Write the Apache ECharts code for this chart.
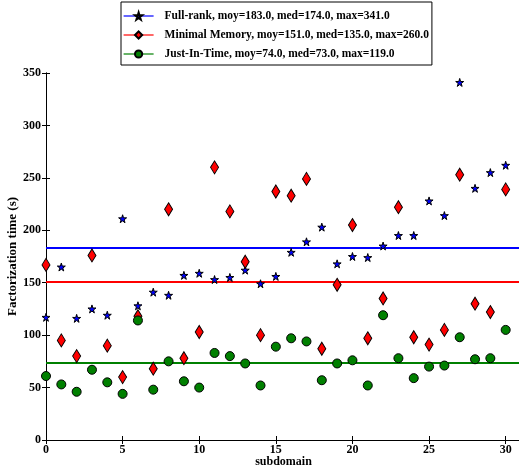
<!DOCTYPE html>
<html>
<head>
<meta charset="utf-8">
<script src="https://cdn.jsdelivr.net/npm/echarts@6/dist/echarts.min.js"></script>
<style>
html,body{margin:0;padding:0;background:#fff;}
#chart{width:519px;height:472px;}
</style>
</head>
<body>
<div id="chart"></div>
<script>
// ---- data ----
const subdomains = [0,1,2,3,4,5,6,7,8,9,10,11,12,13,14,15,16,17,18,19,20,21,22,23,24,25,26,27,28,29,30];
const fullRank = [117,165,116,125,119,211,128,141,138,157,159,153,155,162,149,156,179,189,203,168,175,174,185,195,195,228,214,341,240,255,262];
const minimalMemory = [167,95,80,176,90,60,118,68,220,78,103,260,218,170,100,237,233,249,87,148,205,97,135,222,98,91,105,253,130,122,239];
const justInTime = [61,53,46,67,55,44,114,48,75,56,50,83,80,73,52,89,97,94,57,73,76,52,119,78,59,70,71,98,77,78,105];
const seriesNames = [
  'Full-rank, moy=183.0, med=174.0, max=341.0',
  'Minimal Memory, moy=151.0, med=135.0, max=260.0',
  'Just-In-Time, moy=74.0, med=73.0, max=119.0'
];
const means = [183, 151, 74];
const xTicks = [0, 5, 10, 15, 20, 25, 30];
const yTicks = [0, 50, 100, 150, 200, 250, 300, 350];

const FONT = 'Liberation Serif';
const starPath = 'path://M50,0 L61,35 L98,35 L68,57 L79,91 L50,70 L21,91 L32,57 L2,35 L39,35 Z';
const colors = ['#0000ff', '#ff0000', '#008000'];
const symbols = [starPath, 'diamond', 'circle'];
const sizes = [8, [8, 13], 9];
const values = [fullRank, minimalMemory, justInTime];

const chart = echarts.init(document.getElementById('chart'), null, {renderer: 'canvas'});

const pointSeries = values.map((vals, k) => ({
  name: seriesNames[k],
  type: 'line',
  data: subdomains.map((x, i) => [x, vals[i]]),
  symbol: symbols[k],
  symbolSize: sizes[k],
  showSymbol: true,
  showAllSymbol: true,
  lineStyle: {width: 0, opacity: 0},
  itemStyle: {color: colors[k], borderColor: '#000', borderWidth: 1},
  emphasis: {disabled: true},
  z: 5,
  animation: false
}));

const meanSeries = means.map((m, k) => ({
  type: 'line',
  data: [],
  silent: true,
  z: 2,
  markLine: {
    silent: true,
    symbol: 'none',
    label: {show: false},
    lineStyle: {color: colors[k], width: 1.8, type: 'solid'},
    data: [{yAxis: m}],
    animation: false
  }
}));

const axisCommon = {
  type: 'value',
  axisLine: {show: true, lineStyle: {color: '#000', width: 1}},
  splitLine: {show: false},
  axisTick: {show: true, inside: true, length: 4, lineStyle: {color: '#000'}}
};

const labelStyle = {fontFamily: FONT, fontWeight: 'bold', fontSize: 12, color: '#000'};

const option = {
  animation: false,
  backgroundColor: '#fff',
  grid: {left: 46, top: 73, width: 475, height: 367, containLabel: false, outerBoundsMode: 'none'},
  legend: {
    orient: 'vertical',
    left: 121,
    top: 2,
    padding: [8, 3, 5, 2],
    itemWidth: 30,
    itemHeight: 9,
    itemGap: 7,
    borderColor: '#000',
    borderWidth: 1,
    borderRadius: 0,
    textStyle: {fontFamily: FONT, fontWeight: 'bold', fontSize: 11.5, color: '#000', padding: [0, 0, 0, 6]},
    data: seriesNames.map((n, k) => ({
      name: n,
      lineStyle: {color: colors[k], width: 1.2, opacity: 1}
    }))
  },
  xAxis: [
    Object.assign({}, axisCommon, {
      min: 0, max: 31, interval: 5,
      position: 'bottom',
      name: 'subdomain',
      nameLocation: 'middle',
      nameGap: 16,
      nameMoveOverlap: false,
      nameTextStyle: labelStyle,
      axisLabel: Object.assign({}, labelStyle, {margin: 4, showMaxLabel: false,
        formatter: v => (xTicks.indexOf(v) >= 0 ? String(v) : '')})
    }),
    Object.assign({}, axisCommon, {
      min: 0, max: 31, interval: 5,
      position: 'top',
      axisLabel: {show: false}
    })
  ],
  yAxis: [
    Object.assign({}, axisCommon, {
      min: 0, max: 350, interval: 50,
      position: 'left',
      name: 'Factorization time (s)',
      nameLocation: 'middle',
      nameGap: 27,
      nameMoveOverlap: false,
      nameRotate: 90,
      nameTextStyle: Object.assign({}, labelStyle, {fontSize: 13}),
      axisLabel: Object.assign({}, labelStyle, {margin: 5,
        formatter: v => (yTicks.indexOf(v) >= 0 ? String(v) : '')})
    }),
    Object.assign({}, axisCommon, {
      min: 0, max: 350, interval: 50,
      position: 'right',
      axisLabel: {show: false}
    })
  ],
  series: meanSeries.concat(pointSeries)
};

chart.setOption(option);
</script>
</body>
</html>
